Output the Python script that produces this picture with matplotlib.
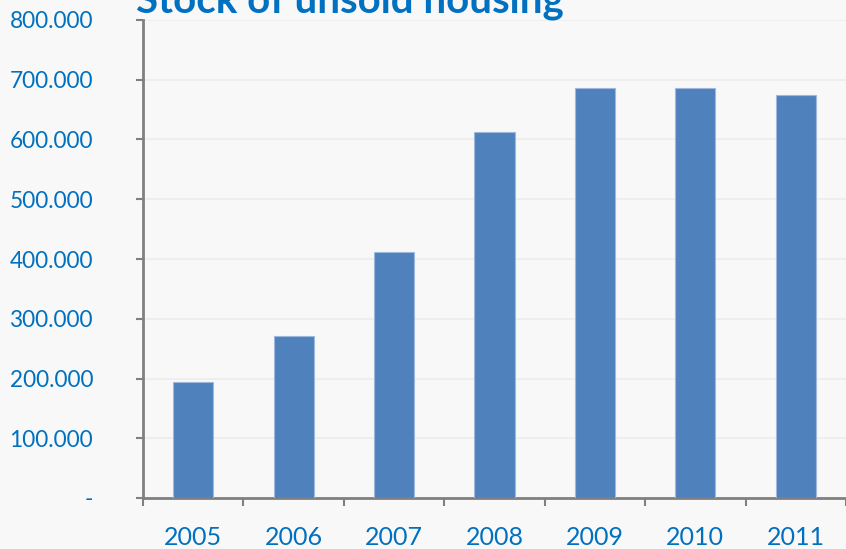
import matplotlib
matplotlib.use("Agg")
import matplotlib.pyplot as plt
from matplotlib.ticker import FuncFormatter, MultipleLocator

years = ["2005", "2006", "2007", "2008", "2009", "2010", "2011"]
unsold_homes = [194000, 271000, 412000, 612000, 687000, 686000, 675000]

title = "Stock of unsold housing"
blue_text = "#0070C0"
bar_color = "#4F81BD"
axis_grey = "#808080"
bg = "#f8f8f8"

plt.rcParams["font.family"] = ["Lato", "DejaVu Sans"]

fig = plt.figure(figsize=(8.46, 5.49), dpi=100, facecolor=bg)
ax = fig.add_axes([143 / 846, 51 / 549, 703 / 846, 478 / 549], facecolor=bg)

x = range(len(years))
ax.bar(x, unsold_homes, width=0.40, color=bar_color, edgecolor="#9db9dd",
       linewidth=0.8, zorder=3)

ax.set_xlim(-0.5, len(years) - 0.5)
ax.set_ylim(0, 800000)
ax.yaxis.set_major_locator(MultipleLocator(100000))


def thousands(v, _):
    if v == 0:
        return "-"
    return f"{int(round(v)):,}".replace(",", ".")


ax.yaxis.set_major_formatter(FuncFormatter(thousands))
ax.grid(axis="y", color="#ececec", linewidth=1.2, zorder=0)

ax.set_xticks(list(x))
ax.set_xticklabels(years)
ax.set_xticks([i - 0.5 for i in range(len(years) + 1)], minor=True)
ax.tick_params(axis="x", which="major", length=0, pad=20,
               labelsize=18, labelcolor=blue_text)
ax.tick_params(axis="x", which="minor", length=6, width=1.5,
               color=axis_grey, direction="out")
ax.tick_params(axis="y", length=5, width=1.5, color=axis_grey,
               labelsize=16.3, labelcolor=blue_text, pad=31)

for side in ("top", "right"):
    ax.spines[side].set_visible(False)
for side in ("left", "bottom"):
    ax.spines[side].set_color(axis_grey)
    ax.spines[side].set_linewidth(2)

fig.text(136 / 846, 1 - 12 / 549, title, fontsize=29, fontweight="bold",
         color=blue_text, ha="left", va="baseline")

fig.savefig("out.png", dpi=100, facecolor=bg)
